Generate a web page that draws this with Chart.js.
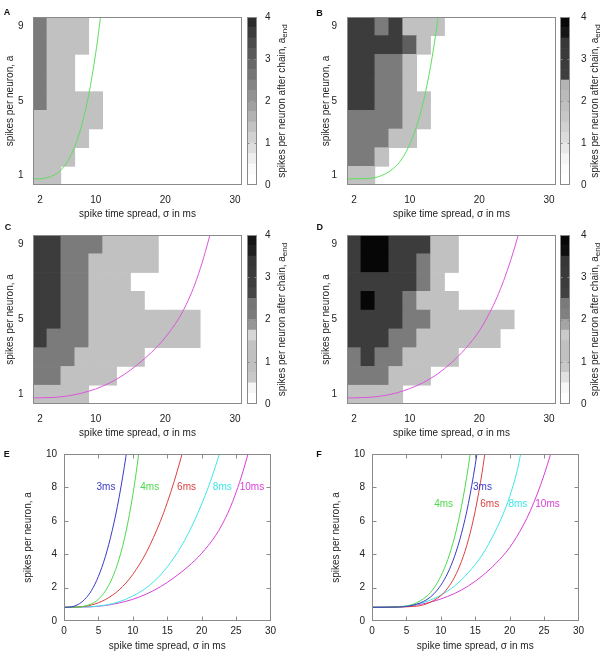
<!DOCTYPE html>
<html><head><meta charset="utf-8">
<script src="https://cdn.jsdelivr.net/npm/chart.js@4.4.1/dist/chart.umd.min.js"></script>
<style>
html,body{margin:0;padding:0;background:#fff;}
body{width:601px;height:654px;position:relative;overflow:hidden;}
canvas{position:absolute;}
</style></head><body>
<canvas id="hA"></canvas><canvas id="cA"></canvas>
<canvas id="hB"></canvas><canvas id="cB"></canvas>
<canvas id="hC"></canvas><canvas id="cC"></canvas>
<canvas id="hD"></canvas><canvas id="cD"></canvas>
<canvas id="pE"></canvas><canvas id="pF"></canvas>
<script>
// ---------------- data ----------------
const sigmaCols = [2,4,6,8,10,12,14,16,18,20,22,24,26,28,30];
const aRows = [9,8,7,6,5,4,3,2,1];
const heatTicksX = [2,10,20,30];
const heatTicksY = [1,5,9];
const cbTicks = [0,1,2,3,4];
const cbLevels = [0,0.25,0.5,0.75,1,1.25,1.5,1.75,2,2.25,2.5,2.75,3,3.25,3.5,3.75,4];

const gridA = [
 [2,1,1,1,0,0,0,0,0,0,0,0,0,0,0],
 [2,1,1,1,0,0,0,0,0,0,0,0,0,0,0],
 [2,1,1,0,0,0,0,0,0,0,0,0,0,0,0],
 [2,1,1,0,0,0,0,0,0,0,0,0,0,0,0],
 [2,1,1,1,1,0,0,0,0,0,0,0,0,0,0],
 [1,1,1,1,1,0,0,0,0,0,0,0,0,0,0],
 [1,1,1,1,0,0,0,0,0,0,0,0,0,0,0],
 [1,1,1,0,0,0,0,0,0,0,0,0,0,0,0],
 [1,1,0,0,0,0,0,0,0,0,0,0,0,0,0]];
const gridB = [
 [3,3,2,3,1,1,1,0,0,0,0,0,0,0,0],
 [3,3,3,3,2.5,1,0,0,0,0,0,0,0,0,0],
 [3,3,2,2,1,0,0,0,0,0,0,0,0,0,0],
 [3,3,2,2,1,0,0,0,0,0,0,0,0,0,0],
 [3,3,2,2,1,1,0,0,0,0,0,0,0,0,0],
 [2,2,2,2,1,1,0,0,0,0,0,0,0,0,0],
 [2,2,2,1,1,0,0,0,0,0,0,0,0,0,0],
 [2,2,1,0,0,0,0,0,0,0,0,0,0,0,0],
 [1,1,0,0,0,0,0,0,0,0,0,0,0,0,0]];
const gridC = [
 [3,3,2,2,2,1,1,1,1,0,0,0,0,0,0],
 [3,3,2,2,1,1,1,1,1,0,0,0,0,0,0],
 [3,3,2,2,1,1,1,0,0,0,0,0,0,0,0],
 [3,3,2,2,1,1,1,1,0,0,0,0,0,0,0],
 [3,3,2,2,1,1,1,1,1,1,1,1,0,0,0],
 [3,2,2,2,1,1,1,1,1,1,1,1,0,0,0],
 [2,2,2,1,1,1,1,1,0,0,0,0,0,0,0],
 [2,2,1,1,1,1,0,0,0,0,0,0,0,0,0],
 [1,1,1,1,0,0,0,0,0,0,0,0,0,0,0]];
const gridD = [
 [3,4,4,3,3,3,1,1,0,0,0,0,0,0,0],
 [3,4,4,3,3,2,1,1,0,0,0,0,0,0,0],
 [3,3,3,3,3,2,1,0,0,0,0,0,0,0,0],
 [3,4,3,3,2,1,1,1,0,0,0,0,0,0,0],
 [3,3,3,3,2,2,1,1,1,1,1,1,0,0,0],
 [3,3,3,2,2,1,1,1,1,1,1,0,0,0,0],
 [2,3,2,2,1,1,1,1,0,0,0,0,0,0,0],
 [2,2,2,1,1,1,0,0,0,0,0,0,0,0,0],
 [1,1,1,1,0,0,0,0,0,0,0,0,0,0,0]];

// colorbar grey levels, per 0.25 band from 0 (bottom) to 4 (top)
const cbGrayA = [255,250,238,222,210,195,178,160,146,132,118,104,90,76,60,44];
const cbGrayB = [255,252,245,232,220,210,200,192,186,180,62,60,58,56,22,8];
const cbGrayC = [255,246,200,193,192,194,214,150,122,118,70,62,58,55,32,22];
const cbGrayD = [255,248,225,200,193,193,202,165,128,122,65,60,58,55,15,8];

// curves, panel E (sigma in ms, a)
const e3x = [0,1,2,3,4,5,6,7,8,9,9.1];
const e3y = [0.82,0.84,0.98,1.29,1.83,2.67,3.85,5.41,7.39,9.85,10.13];
const e4x = [0,2,3,4,5,6,7,8,9,10,10.5,11];
const e4y = [0.82,0.83,0.89,1.03,1.30,1.79,2.56,3.71,5.33,7.56,8.93,10.5];
const e6x = [0,2,4,6,8,10,12,14,15,16,17,17.3];
const e6y = [0.82,0.84,0.96,1.28,1.86,2.79,4.14,5.97,7.09,8.35,9.77,10.23];
const e8x = [0,4,6,8,10,12,14,16,17,18,19,20,21,22,22.6];
const e8y = [0.82,0.86,0.95,1.15,1.5,2.0,2.75,3.8,4.45,5.2,6.05,7.0,8.05,9.25,10.05];
const e10x = [0,4,6,8,10,12,14,16,18,20,22,23,24,25,26,26.8];
const e10y = [0.82,0.85,0.93,1.08,1.3,1.62,2.05,2.6,3.25,4.05,5.1,5.8,6.65,7.7,8.95,10.1];
// curves, panel F
const f3x = [0,4,6,8,9,10,11,12,13,14,15,15.4];
const f3y = [0.82,0.84,0.95,1.29,1.63,2.14,2.87,3.88,5.24,7.03,9.35,10.45];
const f4x = [0,4,6,8,9,10,11,12,13,14,14.4];
const f4y = [0.82,0.85,1.01,1.50,1.97,2.68,3.67,5.03,6.86,9.25,10.39];
const f6x = [0,6,8,10,11,12,13,14,15,16,16.6];
const f6y = [0.82,0.87,1.04,1.52,1.97,2.63,3.57,4.86,6.60,8.91,10.62];
const f8x = [0,4,6,8,10,12,14,16,17,18,19,20,21,21.6];
const f8y = [0.82,0.86,0.95,1.18,1.55,2.1,2.9,3.95,4.65,5.45,6.35,7.45,8.85,10.0];
const f10x = [0,4,6,8,10,12,14,16,18,20,22,23,24,25,26];
const f10y = [0.82,0.85,0.93,1.08,1.32,1.65,2.1,2.7,3.45,4.4,5.75,6.6,7.6,8.75,10.05];

const curveNames = ['3ms','4ms','6ms','8ms','10ms'];
const labelPosE = [[6.1,8],[12.45,8],[17.8,8],[23.0,8],[27.3,8]];
const labelPosF = [[16.05,8],[10.4,7],[17.1,7],[21.2,7],[25.5,7]];

// ---------------- style ----------------
const FONT = "'Liberation Sans', Arial, Helvetica, sans-serif";
const TXT = '#222';
const FRAME = '#8a8a8a';
const curveColors = ['#3a3ac8','#4cd94c','#dc4040','#40e6e6','#d840d8'];
const cellShades = {1:'#c1c1c1', 2:'#7b7b7b', 2.5:'#5f5f5f', 3:'#3c3c3c', 4:'#060606'};
const xTitle = 'spike time spread, σ in ms';
const yTitle = 'spikes per neuron, a';

Chart.defaults.font.family = FONT;
Chart.defaults.font.size = 10;
Chart.defaults.color = TXT;
Chart.defaults.animation = false;

function place(id, left, top, w, h) {
  const c = document.getElementById(id);
  c.style.left = left + 'px'; c.style.top = top + 'px';
  c.width = w; c.height = h; c.style.width = w + 'px'; c.style.height = h + 'px';
  return c;
}
function zp(s) { s.paddingLeft = 0; s.paddingRight = 0; s.paddingTop = 0; s.paddingBottom = 0; }

function framePlugin(o) {
  return { id: 'frame', afterDatasetsDraw(chart) {
    const {ctx, chartArea: a} = chart;
    ctx.save();
    ctx.strokeStyle = o.color; ctx.lineWidth = 1;
    const L = Math.round(a.left) + 0.5, R = Math.round(a.right) - 0.5;
    const T = Math.round(a.top) + 0.5, B = Math.round(a.bottom) - 0.5;
    ctx.strokeRect(L, T, R - L, B - T);
    const len = o.len || 0;
    if (len) {
      ctx.beginPath();
      (o.xt || []).forEach(v => {
        const px = Math.round(chart.scales.x.getPixelForValue(v)) + 0.5;
        ctx.moveTo(px, B); ctx.lineTo(px, B - len);
        ctx.moveTo(px, T); ctx.lineTo(px, T + len);
      });
      (o.yt || []).forEach(v => {
        const py = Math.round(chart.scales.y.getPixelForValue(v)) + 0.5;
        ctx.moveTo(L, py); ctx.lineTo(L + len, py);
        ctx.moveTo(R, py); ctx.lineTo(R - len, py);
      });
      ctx.stroke();
    }
    ctx.restore();
  }};
}
function textPlugin(items) {
  return { id: 'texts', afterDraw(chart) {
    const ctx = chart.ctx;
    items.forEach(it => {
      ctx.save();
      let x = it.x, y = it.y;
      if (it.dx !== undefined) { x = chart.scales.x.getPixelForValue(it.dx); y = chart.scales.y.getPixelForValue(it.dy); }
      const font = it.font || ('10px ' + FONT);
      ctx.font = font;
      ctx.fillStyle = it.color || TXT;
      ctx.textBaseline = 'middle';
      ctx.translate(x, y);
      if (it.rot) ctx.rotate(it.rot);
      if (it.sub) {
        const mainW = ctx.measureText(it.text).width;
        ctx.font = it.subFont;
        const subW = ctx.measureText(it.sub).width;
        const total = mainW + subW;
        ctx.font = font; ctx.textAlign = 'left';
        ctx.fillText(it.text, -total / 2, 0);
        ctx.font = it.subFont;
        ctx.fillText(it.sub, -total / 2 + mainW, 3);
      } else {
        ctx.textAlign = it.align || 'center';
        ctx.fillText(it.text, 0, 0);
      }
      ctx.restore();
    });
  }};
}
function pts(xs, ys) { return xs.map((x, i) => ({x: x, y: ys[i]})); }

function makeHeat(c) {
  const canvas = place(c.id, c.left, c.top, c.w, c.h);
  const cells = [], cols = [];
  c.grid.forEach((row, r) => row.forEach((v, k) => {
    if (v > 0) { cells.push({x: sigmaCols[k], y: [aRows[r] - 0.5, aRows[r] + 0.5]}); cols.push(cellShades[v]); }
  }));
  new Chart(canvas, {
    type: 'bar',
    data: { datasets: [
      {type: 'line', data: pts(c.cx, c.cy), borderColor: c.lineColor, borderWidth: 1, pointRadius: 0,
       cubicInterpolationMode: 'monotone', fill: false},
      {type: 'bar', data: cells, backgroundColor: cols, borderWidth: 0, barPercentage: 1, categoryPercentage: 1}
    ]},
    options: {
      responsive: false, animation: false, events: [],
      layout: {padding: {top: c.padTop, right: c.padRight, left: 0, bottom: 0}},
      plugins: {legend: {display: false}, tooltip: {enabled: false}},
      scales: {
        x: { type: 'linear', min: 1, max: 31, offset: false,
             afterBuildTicks: s => { s.ticks = heatTicksX.map(v => ({value: v})); },
             grid: {display: false, drawTicks: false, offset: false}, border: {display: false},
             ticks: {padding: 9, maxRotation: 0, autoSkip: false, color: TXT},
             title: {display: true, text: xTitle, color: TXT, padding: {top: 0, bottom: 1.5}},
             afterFit: s => { s.height = c.xH; zp(s); } },
        y: { type: 'linear', min: 0.5, max: 9.5,
             afterBuildTicks: s => { s.ticks = heatTicksY.map(v => ({value: v})); },
             grid: {display: false, drawTicks: false}, border: {display: false},
             ticks: {padding: c.yTickPad, color: TXT},
             title: {display: true, text: yTitle, color: TXT, padding: {top: c.yTitlePad, bottom: 0}},
             afterFit: s => { s.width = c.yW; zp(s); } }
      }
    },
    plugins: [framePlugin({color: FRAME}),
      textPlugin([{text: c.letter, x: c.lx, y: c.ly, font: 'bold 9px ' + FONT, color: '#111'}])]
  });
}

function makeCbar(c) {
  const canvas = place(c.id, c.left, c.top, c.w, c.h);
  const datasets = c.grays.map((g, i) => ({
    data: [[cbLevels[i], cbLevels[i + 1]]], backgroundColor: 'rgb(' + g + ',' + g + ',' + g + ')',
    borderWidth: 0, barPercentage: 1, categoryPercentage: 1, grouped: false }));
  new Chart(canvas, {
    type: 'bar',
    data: {labels: ['c'], datasets: datasets},
    options: {
      responsive: false, animation: false, events: [],
      layout: {padding: {top: c.padTop, bottom: c.padBottom, left: c.padLeft, right: 0}},
      plugins: {legend: {display: false}, tooltip: {enabled: false}},
      scales: {
        x: {display: false},
        y: { position: 'right', min: 0, max: 4,
             afterBuildTicks: s => { s.ticks = cbTicks.map(v => ({value: v})); },
             grid: {display: false, drawTicks: false}, border: {display: false},
             ticks: {padding: c.tickPad, color: TXT},
             afterFit: s => { s.width = c.yW; zp(s); } }
      }
    },
    plugins: [framePlugin({color: FRAME, len: 2, yt: [1,2,3]}),
      textPlugin([{text: 'spikes per neuron after chain, a', sub: 'end', subFont: '8px ' + FONT,
                   x: c.tx, y: c.ty, rot: -Math.PI / 2}])]
  });
}

function makeLines(c) {
  const canvas = place(c.id, c.left, c.top, c.w, c.h);
  const datasets = c.curves.map((cv, i) => ({
    data: pts(cv[0], cv[1]), borderColor: curveColors[i], borderWidth: 1, pointRadius: 0,
    cubicInterpolationMode: 'monotone', fill: false }));
  const labels = c.labelPos.map((p, i) => ({text: curveNames[i], dx: p[0], dy: p[1], color: curveColors[i]}));
  labels.push({text: c.letter, x: c.lx, y: c.ly, font: 'bold 9px ' + FONT, color: '#111'});
  new Chart(canvas, {
    type: 'line',
    data: {datasets: datasets},
    options: {
      responsive: false, animation: false, events: [],
      layout: {padding: {top: c.padTop, right: c.padRight, left: 0, bottom: 0}},
      plugins: {legend: {display: false}, tooltip: {enabled: false}},
      scales: {
        x: { type: 'linear', min: 0, max: 30, ticks: {stepSize: 5, padding: 4.7, color: TXT, maxRotation: 0},
             grid: {display: false, drawTicks: false}, border: {display: false},
             title: {display: true, text: xTitle, color: TXT, padding: {top: 0, bottom: 1.3}},
             afterFit: s => { s.height = c.xH; zp(s); } },
        y: { type: 'linear', min: 0, max: 10, ticks: {stepSize: 2, padding: 7, color: TXT},
             grid: {display: false, drawTicks: false}, border: {display: false},
             title: {display: true, text: yTitle, color: TXT, padding: {top: c.yTitlePad, bottom: 0}},
             afterFit: s => { s.width = c.yW; zp(s); } }
      }
    },
    plugins: [framePlugin({color: FRAME, len: 4, xt: [5,10,15,20,25], yt: [2,4,6,8]}), textPlugin(labels)]
  });
}

// ---------------- build ----------------
makeHeat({id: 'hA', left: 0, top: 0, w: 244, h: 222, grid: gridA, cx: e4x, cy: e4y, lineColor: '#5ede5e',
  padTop: 17, padRight: 2, xH: 37, yW: 33, yTickPad: 9.5, yTitlePad: 4, letter: 'A', lx: 7, ly: 13});
makeCbar({id: 'cA', left: 244, top: 0, w: 57, h: 222, grays: cbGrayA, padTop: 17, padBottom: 37, padLeft: 3,
  yW: 44, tickPad: 8, tx: 38, ty: 101});
makeHeat({id: 'hB', left: 300, top: 0, w: 258, h: 222, grid: gridB, cx: f4x, cy: f4y, lineColor: '#5ede5e',
  padTop: 17, padRight: 2, xH: 37, yW: 47, yTickPad: 10, yTitlePad: 20.7, letter: 'B', lx: 19.5, ly: 14});
makeCbar({id: 'cB', left: 558, top: 0, w: 43, h: 222, grays: cbGrayB, padTop: 17, padBottom: 37, padLeft: 2,
  yW: 31, tickPad: 11, tx: 37, ty: 101});
makeHeat({id: 'hC', left: 0, top: 222, w: 244, h: 219, grid: gridC, cx: e10x, cy: e10y, lineColor: '#dc55dc',
  padTop: 13, padRight: 2, xH: 37, yW: 33, yTickPad: 9.5, yTitlePad: 4, letter: 'C', lx: 8, ly: 6});
makeCbar({id: 'cC', left: 244, top: 222, w: 57, h: 219, grays: cbGrayC, padTop: 13, padBottom: 37, padLeft: 3,
  yW: 44, tickPad: 8, tx: 38, ty: 97.5});
makeHeat({id: 'hD', left: 300, top: 222, w: 258, h: 219, grid: gridD, cx: f10x, cy: f10y, lineColor: '#dc55dc',
  padTop: 13, padRight: 2, xH: 37, yW: 47, yTickPad: 10, yTitlePad: 20.7, letter: 'D', lx: 19.7, ly: 5.5});
makeCbar({id: 'cD', left: 558, top: 222, w: 43, h: 219, grays: cbGrayD, padTop: 13, padBottom: 37, padLeft: 2,
  yW: 31, tickPad: 11, tx: 37, ty: 97.5});
makeLines({id: 'pE', left: 0, top: 441, w: 300, h: 213,
  curves: [[e3x,e3y],[e4x,e4y],[e6x,e6y],[e8x,e8y],[e10x,e10y]], labelPos: labelPosE,
  padTop: 13, padRight: 29.5, xH: 33, yW: 64, yTitlePad: 22.3, letter: 'E', lx: 6.7, ly: 13.5});
makeLines({id: 'pF', left: 300, top: 441, w: 301, h: 213,
  curves: [[f3x,f3y],[f4x,f4y],[f6x,f6y],[f8x,f8y],[f10x,f10y]], labelPos: labelPosF,
  padTop: 13, padRight: 22.5, xH: 33, yW: 72, yTitlePad: 30.7, letter: 'F', lx: 19, ly: 13.7});
</script>
</body></html>
